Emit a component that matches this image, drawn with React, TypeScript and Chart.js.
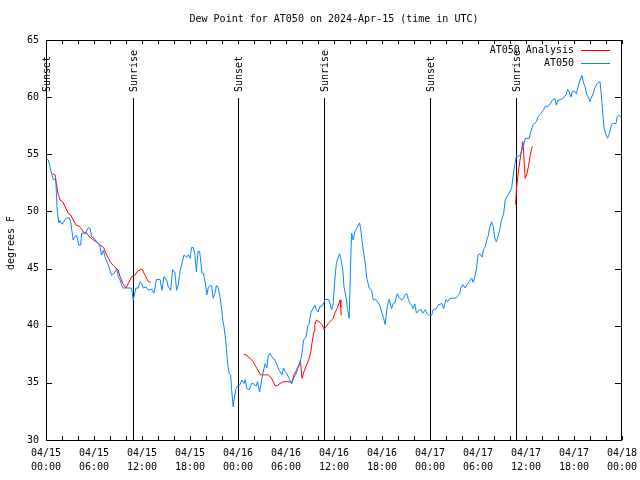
import React, { useEffect, useRef } from "react";
import { Chart, registerables } from "chart.js";

Chart.register(...registerables);

const FONT = '"DejaVu Sans Mono", "Liberation Mono", monospace';

const chartTitle = "Dew Point for AT050 on 2024-Apr-15 (time in UTC)";
const yAxisTitle = "degrees F";

// hours since 04/15 00:00 UTC
const blueHours = [
  0.0, 0.29, 0.7, 0.9, 1.2, 1.25, 1.4, 1.6, 1.75, 2.0, 2.1, 2.5, 2.9, 3.1, 3.4, 3.6, 3.83, 4.1, 4.33, 4.46, 4.67, 4.88,
  5.29, 5.5, 5.71, 6.0, 6.33, 6.54, 6.75, 6.96, 7.17, 7.38, 7.8, 8.2, 8.63, 8.83, 9.04, 9.25, 9.6, 9.88, 10.5, 10.7,
  10.9, 11.25, 11.54, 11.75, 11.96, 12.17, 12.5, 12.8, 13.2, 13.5, 13.8, 14.25, 14.5, 14.75, 15.08, 15.29, 15.58,
  15.83, 16.1, 16.33, 16.54, 16.75, 17.1, 17.25, 17.58, 17.8, 18.0, 18.2, 18.4, 18.6, 18.8, 19.0, 19.2, 19.5, 19.67,
  19.9, 20.1, 20.3, 20.5, 20.7, 20.9, 21.1, 21.3, 21.5, 21.75, 21.96, 22.1, 22.25, 22.5, 22.7, 22.9, 23.08, 23.2,
  23.4, 23.5, 23.75, 23.9, 24.2, 24.5, 24.75, 24.9, 25.1, 25.4, 25.7, 26.0, 26.25, 26.45, 26.7, 26.85, 27.1, 27.4,
  27.6, 27.8, 28.0, 28.2, 28.6, 28.8, 29.15, 29.5, 29.7, 29.9, 30.1, 30.3, 30.5, 30.7, 31.0, 31.2, 31.5, 31.75, 32.0,
  32.2, 32.5, 32.7, 32.9, 33.1, 33.3, 33.6, 33.8, 34.0, 34.25, 34.5, 34.7, 34.9, 35.3, 35.5, 35.7, 35.9, 36.1, 36.3,
  36.7, 36.85, 37.1, 37.25, 37.5, 37.7, 37.9, 38.1, 38.2, 38.4, 38.6, 38.8, 39.2, 39.35, 39.6, 39.9, 40.1, 40.4, 40.7,
  40.9, 41.3, 41.7, 41.96, 42.2, 42.4, 42.6, 42.8, 42.9, 43.2, 43.4, 43.6, 43.9, 44.2, 44.5, 44.7, 44.9, 45.1, 45.3,
  45.5, 45.7, 45.9, 46.1, 46.3, 46.7, 46.9, 47.1, 47.4, 47.7, 47.9, 48.2, 48.4, 48.8, 49.0, 49.5, 49.7, 50.0, 50.2,
  50.5, 50.9, 51.3, 51.7, 51.85, 52.1, 52.4, 52.6, 52.9, 53.2, 53.4, 53.6, 53.8, 54.0, 54.25, 54.5, 54.7, 54.9, 55.1,
  55.3, 55.4, 55.7, 55.9, 56.1, 56.3, 56.5, 56.75, 56.9, 57.2, 57.4, 57.8, 58.2, 58.4, 58.6, 58.8, 59.0, 59.25, 59.5,
  59.7, 59.9, 60.4, 60.6, 60.9, 61.3, 61.5, 62.0, 62.2, 62.4, 62.8, 63.1, 63.3, 63.6, 63.8, 64.0, 64.25, 64.6, 64.75,
  65.0, 65.2, 65.4, 65.6, 65.8, 66.1, 66.3, 66.5, 66.75, 67.0, 67.2, 67.4, 67.6, 67.8, 68.0, 68.2, 68.4, 68.6, 68.9,
  69.25, 69.4, 69.6, 69.75, 70.0, 70.2, 70.3, 70.5, 70.7, 70.9, 71.25, 71.4, 71.6, 71.8, 72.0,
];
const blueValues = [
  54.7, 54.5, 53.3, 52.8, 52.8, 52.3, 50.1, 49.0, 49.2, 48.9, 49.0, 49.4, 49.45, 49.0, 47.5, 47.8, 47.9, 47.06, 47.06,
  48.1, 48.1, 48.0, 48.6, 48.5, 47.8, 47.65, 47.35, 47.2, 46.9, 46.2, 46.6, 46.0, 45.3, 44.4, 44.7, 45.0, 44.3, 44.0,
  43.3, 43.3, 43.3, 43.3, 42.25, 43.3, 43.3, 43.85, 43.7, 43.3, 43.4, 43.1, 43.2, 42.85, 44.05, 44.05, 43.1, 44.3, 44.0,
  43.4, 43.1, 44.9, 44.7, 43.1, 43.6, 44.75, 45.75, 46.2, 46.0, 46.2, 45.9, 46.85, 46.85, 46.3, 44.7, 46.5, 46.5, 44.6,
  44.6, 43.85, 42.7, 43.4, 43.5, 43.5, 42.4, 42.8, 43.5, 43.4, 42.55, 41.4, 40.5, 39.9, 38.5, 36.7, 35.8, 35.7, 34.4,
  32.9, 33.5, 34.5, 34.7, 34.8, 35.25, 34.95, 35.3, 34.5, 34.4, 34.95, 34.9, 34.7, 35.1, 34.2, 34.8, 35.8, 36.7, 36.3,
  37.4, 37.6, 37.3, 37.0, 36.7, 36.1, 35.7, 36.3, 36.0, 35.8, 35.5, 35.25, 34.95, 35.5, 35.7, 36.3, 36.7, 37.6, 38.75,
  39.0, 39.9, 40.2, 41.1, 41.4, 41.8, 41.4, 41.2, 41.7, 41.7, 41.95, 42.3, 42.3, 41.95, 41.4, 41.95, 44.0, 45.5, 46.3,
  45.9, 44.9, 43.4, 42.5, 41.4, 40.65, 46.0, 48.1, 47.5, 48.2, 48.5, 49.0, 48.4, 46.9, 45.5, 44.15, 43.3, 43.1, 42.3,
  42.25, 41.8, 41.2, 40.65, 40.1, 41.4, 42.1, 42.3, 41.5, 41.95, 42.0, 42.8, 42.4, 42.25, 42.4, 42.75, 42.8, 42.3,
  41.95, 41.8, 41.5, 41.9, 41.1, 41.4, 41.4, 41.1, 41.4, 41.0, 40.9, 40.9, 41.4, 41.5, 41.8, 41.95, 41.5, 42.3, 42.1,
  42.4, 42.4, 42.45, 42.8, 43.3, 43.6, 43.3, 43.6, 43.85, 44.15, 43.8, 44.3, 44.9, 46.2, 46.3, 46.0, 46.7, 46.9, 47.5,
  47.9, 48.4, 49.1, 48.7, 47.65, 47.35, 47.8, 48.5, 49.1, 49.8, 51.0, 51.5, 52.0, 53.2, 54.1, 54.9, 54.8, 54.9, 55.4,
  55.8, 56.4, 56.4, 57.0, 57.6, 57.85, 58.3, 58.7, 58.9, 59.2, 59.2, 59.5, 59.75, 59.9, 59.3, 59.75, 59.75, 59.9, 60.0,
  60.2, 60.7, 60.5, 60.0, 60.5, 60.5, 60.3, 60.9, 61.5, 61.9, 61.2, 60.9, 60.2, 60.0, 59.6, 60.0, 60.3, 60.8, 61.2,
  61.35, 60.3, 58.6, 57.3, 56.7, 56.4, 56.6, 57.0, 57.6, 57.7, 57.7, 58.3, 58.4, 58.3, 58.2,
];

// analysis series; null marks a gap
const redHours = [
  0.83, 1.13, 1.3, 1.5, 1.75, 2.08, 2.4, 2.8, 3.08, 3.4, 3.75, 4.17, 4.5, 4.67, 5.08, 5.4, 5.83, 6.25, 6.67, 7.2, 7.5,
  7.8, 8.1, 8.5, 9.0, 9.25, 9.6, 10.0, 10.3, 10.7, 11.1, 11.5, 12.0, 12.4, 12.8, 13.1,
  18.0,
  24.75, 25.1, 25.5, 25.9, 26.25, 26.5, 26.8, 27.3, 27.8, 28.2, 28.6, 28.9, 29.25, 29.7, 30.1, 30.5, 30.7, 31.0, 31.3,
  31.7, 31.8, 32.0, 32.25, 32.6, 32.9, 33.1, 33.3, 33.5, 33.6, 33.8, 34.2, 34.5, 34.75, 35.0, 35.3, 35.7, 35.9, 36.1,
  36.4, 36.75, 36.85, 36.9,
  50.0,
  58.7, 58.8, 59.0, 59.25, 59.45, 59.6, 59.66, 59.75, 59.9, 60.08, 60.3, 60.5, 60.7, 60.8,
];
const redValues = [
  53.3, 53.2, 52.45, 51.6, 51.0, 50.85, 50.4, 49.8, 49.7, 49.25, 48.8, 48.7, 48.4, 48.2, 48.1, 47.8, 47.55, 47.35,
  47.1, 46.85, 46.3, 45.9, 45.5, 45.2, 44.9, 44.3, 43.7, 43.3, 43.7, 44.3, 44.4, 44.8, 44.95, 44.4, 43.85, 43.8,
  null,
  37.5, 37.4, 37.15, 36.85, 36.4, 36.1, 35.7, 35.7, 35.7, 35.4, 34.8, 34.75, 34.95, 35.1, 35.1, 35.1, 34.95, 35.7,
  36.1, 36.7, 36.95, 35.4, 36.0, 36.6, 37.15, 37.7, 38.75, 39.5, 40.1, 40.5, 40.3, 40.1, 39.7, 39.9, 40.2, 40.5, 40.65,
  41.1, 41.5, 42.25, 41.6, 40.9,
  null,
  50.6, 51.9, 53.2, 54.5, 55.4, 56.1, 55.7, 54.5, 52.9, 53.2, 53.9, 54.8, 55.5, 55.7,
];

const eventHours = [0, 10.875, 24, 34.75, 48, 58.75];
const eventLabels = ["Sunset", "Sunrise", "Sunset", "Sunrise", "Sunset", "Sunrise"];

const xTickDates = ["04/15", "04/15", "04/15", "04/15", "04/16", "04/16", "04/16", "04/16", "04/17", "04/17", "04/17", "04/17", "04/18"];
const xTickTimes = ["00:00", "06:00", "12:00", "18:00", "00:00", "06:00", "12:00", "18:00", "00:00", "06:00", "12:00", "18:00", "00:00"];

const seriesNames = ["AT050 Analysis", "AT050"];
const seriesColors = ["#ff0000", "#0a84ff"];

const overlay = {
  id: "gnuplotOverlay",
  beforeDatasetsDraw(chart: any) {
    const { ctx, chartArea } = chart;
    const xs = chart.scales.x;
    ctx.save();
    ctx.font = `10px ${FONT}`;
    ctx.fillStyle = "#000";
    ctx.strokeStyle = "#000";
    ctx.lineWidth = 1;
    const labelBottom = 92;
    eventHours.forEach((h, i) => {
      const px = Math.round(xs.getPixelForValue(h)) + 0.5;
      ctx.beginPath();
      ctx.moveTo(px, labelBottom + 6);
      ctx.lineTo(px, chartArea.bottom);
      ctx.stroke();
      ctx.save();
      ctx.translate(px + 1, labelBottom);
      ctx.rotate(-Math.PI / 2);
      ctx.textAlign = "left";
      ctx.textBaseline = "middle";
      ctx.fillText(eventLabels[i], 0, 0);
      ctx.restore();
    });
    ctx.restore();
  },
  afterDraw(chart: any) {
    const { ctx, chartArea } = chart;
    const xs = chart.scales.x;
    const ys = chart.scales.y;
    const L = chartArea.left, R = chartArea.right, T = chartArea.top, B = chartArea.bottom;
    ctx.save();
    ctx.strokeStyle = "#000";
    ctx.fillStyle = "#000";
    ctx.lineWidth = 1;
    // border
    ctx.strokeRect(Math.round(L) + 0.5, Math.round(T) + 0.5, Math.round(R - L) - 1, Math.round(B - T));
    // x ticks every 2 hours, inward
    ctx.beginPath();
    for (let h = xs.min; h <= xs.max; h += 2) {
      const px = Math.round(xs.getPixelForValue(h)) + 0.5;
      ctx.moveTo(px, B);
      ctx.lineTo(px, B - 4);
      ctx.moveTo(px, T);
      ctx.lineTo(px, T + 4);
    }
    // y ticks every 5
    for (let v = ys.min; v <= ys.max; v += 5) {
      const py = Math.round(ys.getPixelForValue(v)) + 0.5;
      ctx.moveTo(L, py);
      ctx.lineTo(L + 6, py);
      ctx.moveTo(R - 1, py);
      ctx.lineTo(R - 7, py);
    }
    ctx.stroke();
    // title
    ctx.font = `10px ${FONT}`;
    ctx.textAlign = "center";
    ctx.textBaseline = "middle";
    ctx.fillText(chartTitle, (L + R) / 2, 19);
    // y axis title
    ctx.save();
    ctx.translate(11, (T + B) / 2 + 3);
    ctx.rotate(-Math.PI / 2);
    ctx.fillText(yAxisTitle, 0, 0);
    ctx.restore();
    // legend
    ctx.textAlign = "right";
    seriesNames.forEach((name, i) => {
      const y = 50 + i * 13;
      ctx.fillStyle = "#000";
      ctx.fillText(name, 574, y);
      ctx.strokeStyle = seriesColors[i];
      ctx.beginPath();
      ctx.moveTo(581, Math.round(y) + 0.5);
      ctx.lineTo(610, Math.round(y) + 0.5);
      ctx.stroke();
    });
    ctx.restore();
  },
};

export default function App() {
  const ref = useRef<HTMLCanvasElement>(null);
  useEffect(() => {
    const blueData = blueHours.map((h, i) => ({ x: h, y: blueValues[i] }));
    const redData = redHours.map((h, i) => ({ x: h, y: redValues[i] }));
    const chart = new Chart(ref.current as HTMLCanvasElement, {
      type: "line",
      data: {
        datasets: [
          {
            label: seriesNames[0],
            data: redData as any,
            borderColor: seriesColors[0],
            borderWidth: 1,
            pointRadius: 0,
            tension: 0,
            spanGaps: false,
            order: 1,
          },
          {
            label: seriesNames[1],
            data: blueData as any,
            borderColor: seriesColors[1],
            borderWidth: 1,
            pointRadius: 0,
            tension: 0,
            order: 0,
          },
        ],
      },
      options: {
        responsive: false,
        maintainAspectRatio: false,
        animation: false,
        devicePixelRatio: 1,
        layout: { padding: { left: 0, right: 18, top: 40, bottom: 0 } },
        plugins: { legend: { display: false }, title: { display: false }, tooltip: { enabled: false } },
        scales: {
          x: {
            type: "linear",
            min: 0,
            max: 72,
            grid: { display: false, drawTicks: false },
            border: { display: false },
            ticks: {
              stepSize: 6,
              autoSkip: false,
              maxRotation: 0,
              minRotation: 0,
              padding: 6,
              color: "#000",
              font: { family: FONT, size: 10, lineHeight: 1.4 },
              callback: (v: any) => {
                const i = Math.round(Number(v) / 6);
                return [xTickDates[i], xTickTimes[i]];
              },
            },
            afterFit: (s: any) => {
              s.height = 40;
              s.paddingLeft = 0;
              s.paddingRight = 0;
            },
          },
          y: {
            min: 30,
            max: 65,
            grid: { display: false, drawTicks: false },
            border: { display: false },
            ticks: {
              stepSize: 5,
              padding: 7,
              color: "#000",
              font: { family: FONT, size: 10 },
            },
            afterFit: (s: any) => {
              s.width = 46;
              s.paddingTop = 0;
              s.paddingBottom = 0;
            },
          },
        },
      },
      plugins: [overlay],
    });
    return () => chart.destroy();
  }, []);
  return (
    <div style={{ position: "absolute", left: 0, top: 0, width: 640, height: 480, background: "#fff" }}>
      <canvas ref={ref} width={640} height={480} style={{ display: "block", width: 640, height: 480 }} />
    </div>
  );
}
